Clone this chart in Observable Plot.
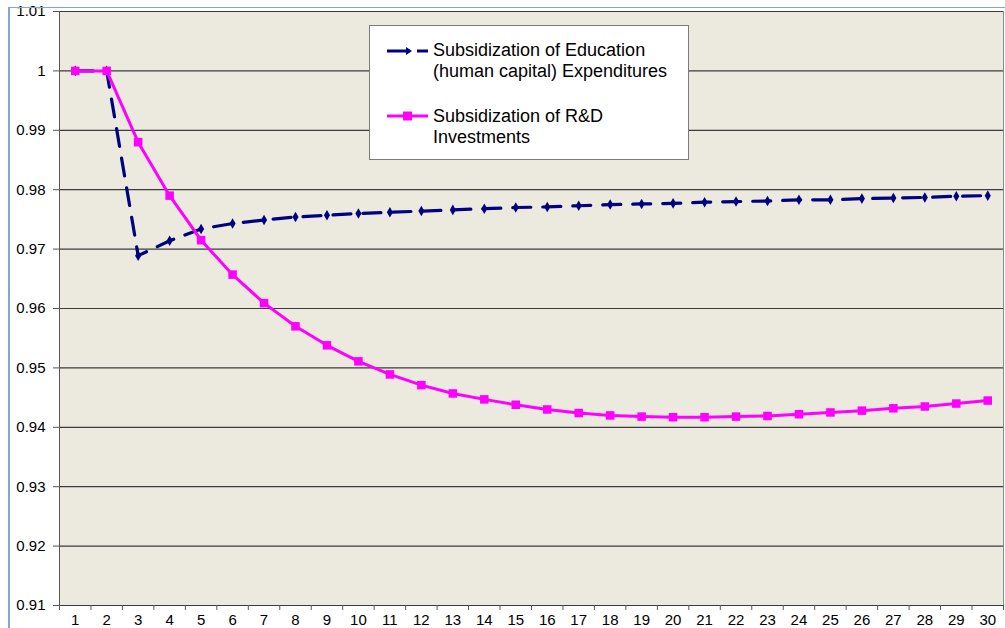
<!DOCTYPE html>
<html><head><meta charset="utf-8">
<script src="https://cdn.jsdelivr.net/npm/d3@7"></script>
<script src="https://cdn.jsdelivr.net/npm/@observablehq/plot@0.6"></script>
<style>
body{margin:0;background:#fff;font-family:"Liberation Sans",Arial,sans-serif;}
#wrap{position:relative;width:1005px;height:628px;overflow:hidden;}
#border{position:absolute;left:8px;top:7px;width:1100px;height:700px;border-left:2px solid #7fa8d8;border-top:1px solid #7fa8d8;pointer-events:none;}
#legend{position:absolute;left:369px;top:25px;width:320px;height:135px;background:#fff;border:1px solid #7a7a7a;box-sizing:border-box;font-size:18px;color:#000;}
.item{position:absolute;left:0;}
.item svg{position:absolute;left:16px;}
.item .t{position:absolute;left:63px;line-height:21px;white-space:nowrap;}
</style></head>
<body>
<div id="wrap">
  <div id="chart"></div>
  <div id="legend"></div>
  <div id="border"></div>
</div>
<script>
const periods = [1,2,3,4,5,6,7,8,9,10,11,12,13,14,15,16,17,18,19,20,21,22,23,24,25,26,27,28,29,30];
const education = [1.0,1.0,0.9689,0.9714,0.9734,0.9743,0.9749,0.9754,0.9757,0.9760,0.9762,0.9764,0.9766,0.9768,0.9770,0.9771,0.9773,0.9775,0.9776,0.9777,0.9779,0.9780,0.9781,0.9783,0.9783,0.9785,0.9786,0.9787,0.9789,0.9790];
const rnd = [1.0,1.0,0.9880,0.9790,0.9715,0.9657,0.9609,0.9570,0.9538,0.9511,0.9489,0.9471,0.9457,0.9447,0.9438,0.9430,0.9424,0.9420,0.9418,0.9417,0.9417,0.9418,0.9419,0.9422,0.9425,0.9428,0.9432,0.9435,0.9440,0.9445];
const yTicks = [0.91,0.92,0.93,0.94,0.95,0.96,0.97,0.98,0.99,1.00,1.01];
const seriesNames = ["Subsidization of Education\n(human capital) Expenditures","Subsidization of R&D\nInvestments"];

const eduData = periods.map((p,i)=>({p, v: education[i]}));
const rndData = periods.map((p,i)=>({p, v: rnd[i]}));
const bounds = periods.map(p=>p-0.5).concat([periods[periods.length-1]+0.5]);

const navy = "#000080", magenta = "#ff00ff";

const chart = Plot.plot({
  width: 1005, height: 628,
  marginLeft: 59, marginRight: 2, marginTop: 11, marginBottom: 23,
  style: {background: "transparent", fontFamily: "Liberation Sans, Arial, sans-serif", color: "#000"},
  x: {domain: [0.5, 30.5], label: null},
  y: {domain: [0.91, 1.01], label: null},
  marks: [
    Plot.frame({fill: "#ece9df", stroke: "#8a8a8a"}),
    Plot.ruleY(yTicks, {stroke: "#3c3c3c", strokeWidth: 1.2}),
    Plot.ruleX([0.5], {stroke: "#555"}),
    Plot.axisY({ticks: yTicks, tickFormat: d3.format("~g"), tickSize: 6, tickPadding: 8, fontSize: 15, stroke: "#555", label: null}),
    Plot.axisX({ticks: periods, tickSize: 0, tickPadding: 9, fontSize: 15, label: null}),
    Plot.axisX({ticks: bounds, tickSize: 5, tickFormat: () => "", stroke: "#555", label: null}),
    Plot.line(eduData, {x: "p", y: "v", stroke: navy, strokeWidth: 3.2, strokeDasharray: "18,12"}),
    Plot.dot(eduData, {x: "p", y: "v", symbol: "diamond", r: 3.2, fill: navy}),
    Plot.line(rndData, {x: "p", y: "v", stroke: magenta, strokeWidth: 3}),
    Plot.dot(rndData, {x: "p", y: "v", symbol: "square", r: 4.8, fill: magenta})
  ]
});
document.getElementById("chart").appendChild(chart);

// legend
const legend = document.getElementById("legend");
const items = [
  {top: 14, color: navy, kind: "edu", name: seriesNames[0]},
  {top: 80, color: magenta, kind: "rnd", name: seriesNames[1]}
];
items.forEach(it => {
  const d = document.createElement("div");
  d.className = "item";
  d.style.top = it.top + "px";
  let svg;
  if (it.kind === "edu") {
    svg = `<svg width="44" height="20" style="top:1px"><line x1="1" y1="10" x2="24" y2="10" stroke="${navy}" stroke-width="3"/><path d="M20,6 L26,10 L20,14 Z" fill="${navy}"/><line x1="31" y1="10" x2="42" y2="10" stroke="${navy}" stroke-width="3"/></svg>`;
  } else {
    svg = `<svg width="44" height="20" style="top:0px"><line x1="1" y1="10" x2="42" y2="10" stroke="${magenta}" stroke-width="3"/><rect x="17" y="5.5" width="9" height="9" fill="${magenta}"/></svg>`;
  }
  const lines = it.name.split("\n").map(s => s.replace(/&/g,"&amp;")).join("<br>");
  d.innerHTML = svg + `<div class="t" style="top:0px">${lines}</div>`;
  legend.appendChild(d);
});
</script>
</body></html>
